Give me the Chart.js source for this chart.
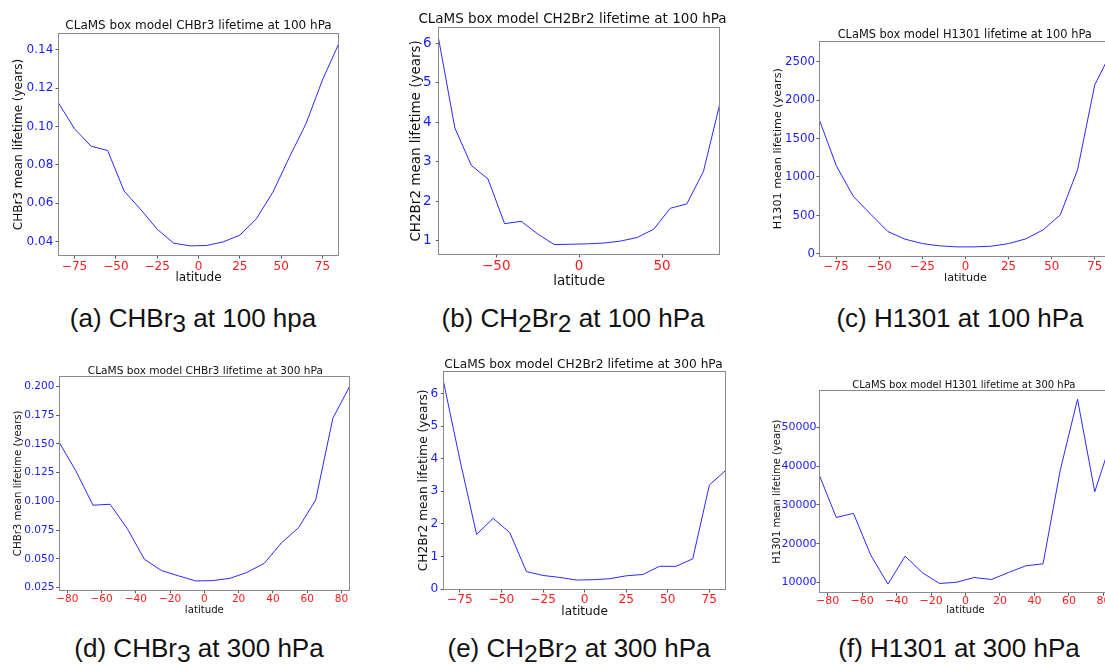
<!DOCTYPE html>
<html><head><meta charset="utf-8">
<script src="https://cdn.jsdelivr.net/npm/chart.js@4/dist/chart.umd.min.js"></script>
<style>
html,body{margin:0;padding:0;background:#fff;width:1105px;height:664px;overflow:hidden;position:relative;}
canvas{position:absolute;}
.cap{position:absolute;font-family:"Liberation Sans",Arial,sans-serif;font-size:26px;line-height:30px;white-space:nowrap;transform:translateX(-50%);color:#111;}
.cap .s{font-size:0.95em;position:relative;top:0.2em;}
</style></head><body>
<div class="cap" style="left:193px;top:302.6px">(a) CHBr<span class="s">3</span> at 100 hpa</div>
<div class="cap" style="left:573px;top:302.6px">(b) CH<span class="s">2</span>Br<span class="s">2</span> at 100 hPa</div>
<div class="cap" style="left:960px;top:302.6px">(c) H1301 at 100 hPa</div>
<div class="cap" style="left:199px;top:632.6px">(d) CHBr<span class="s">3</span> at 300 hPa</div>
<div class="cap" style="left:579px;top:632.6px">(e) CH<span class="s">2</span>Br<span class="s">2</span> at 300 hPa</div>
<div class="cap" style="left:959px;top:632.6px">(f) H1301 at 300 hPa</div>
<script>
// ---- data ----
const latitudes = [-85,-75,-65,-55,-45,-35,-25,-15,-5,5,15,25,35,45,55,65,75,85];
const chbr3_100  = [0.1127,0.0988,0.0897,0.0875,0.0663,0.0567,0.0464,0.0391,0.0377,0.0379,0.0398,0.0433,0.0518,0.0657,0.0840,0.1014,0.1243,0.1435];
const ch2br2_100 = [6.15,3.85,2.90,2.56,1.43,1.49,1.17,0.90,0.91,0.92,0.94,0.99,1.08,1.29,1.82,1.93,2.75,4.48];
const h1301_100  = [1755,1148,745,516,290,191,134,104,91,91,100,134,195,312,507,1092,2197,2645];
const chbr3_300  = [0.152,0.1266,0.0967,0.0975,0.0764,0.0497,0.0398,0.0352,0.0308,0.0311,0.0331,0.0383,0.0462,0.0639,0.0772,0.1013,0.1724,0.2006];
const ch2br2_300 = [6.39,3.96,1.68,2.17,1.73,0.54,0.42,0.36,0.28,0.29,0.32,0.41,0.45,0.70,0.70,0.93,3.19,3.65];
const h1301_300  = [37870,26774,27806,17054,9600,16796,12495,9742,10086,11290,10774,12581,14301,14817,38989,57226,33397,47000];

const xTicks25 = [-75,-50,-25,0,25,50,75];
const xTicks50 = [-50,0,50];
const xTicks20 = [-80,-60,-40,-20,0,20,40,60,80];
const yTicksA = [0.04,0.06,0.08,0.10,0.12,0.14];
const yTicksB = [1,2,3,4,5,6];
const yTicksC = [0,500,1000,1500,2000,2500];
const yTicksD = [0.025,0.050,0.075,0.100,0.125,0.150,0.175,0.200];
const yTicksE = [0,1,2,3,4,5,6];
const yTicksF = [10000,20000,30000,40000,50000];

const titles = ['CLaMS box model CHBr3 lifetime at 100 hPa','CLaMS box model CH2Br2 lifetime at 100 hPa','CLaMS box model H1301 lifetime at 100 hPa',
                'CLaMS box model CHBr3 lifetime at 300 hPa','CLaMS box model CH2Br2 lifetime at 300 hPa','CLaMS box model H1301 lifetime at 300 hPa'];
const yLabels = ['CHBr3 mean lifetime (years)','CH2Br2 mean lifetime (years)','H1301 mean lifetime (years)',
                 'CHBr3 mean lifetime (years)','CH2Br2 mean lifetime (years)','H1301 mean lifetime (years)'];
const xLabel = 'latitude';

// ---- layout (positions / styles) ----
const panels = [
 {vals:chbr3_100, xt:xTicks25, yt:yTicksA, dec:2, plot:{l:58,t:33,r:339,b:256}, fsT:12, fsK:12, fsL:12, titleC:25.7, titleX:198.5, ylabX:18.5, xlabY:278.3, xTickC:266.7, yGap:4.7},
 {vals:ch2br2_100, xt:xTicks50, yt:yTicksB, dec:0, plot:{l:438.3,t:26.7,r:720,b:255}, fsT:13.5, fsK:13.5, fsL:13.5, titleC:19, titleX:572.5, ylabX:416.7, xlabY:281.7, xTickC:266.7, yGap:6.6},
 {vals:h1301_100, xt:xTicks25, yt:yTicksC, dec:0, plot:{l:819,t:40.7,r:1112,b:256.7}, fsT:11.4, fsK:11.8, fsL:11.2, titleC:35, titleX:964.7, ylabX:778.3, xlabY:278.3, xTickC:266.7, yGap:4},
 {vals:chbr3_300, xt:xTicks20, yt:yTicksD, dec:3, plot:{l:58.7,t:376,r:350,b:590.7}, fsT:10.6, fsK:10.5, fsL:10.2, titleC:371.7, titleX:205.3, ylabX:18.3, xlabY:610, xTickC:599.3, yGap:4.3},
 {vals:ch2br2_300, xt:xTicks25, yt:yTicksE, dec:0, plot:{l:443.3,t:370.7,r:726,b:590}, fsT:12.2, fsK:12.2, fsL:12.2, titleC:365, titleX:583.5, ylabX:424, xlabY:611.7, xTickC:600, yGap:5},
 {vals:h1301_300, xt:xTicks20, yt:yTicksF, dec:0, plot:{l:819,t:390,r:1112,b:593.3}, fsT:10, fsK:11, fsL:10, titleC:385, titleX:963.8, ylabX:777.3, xlabY:610.3, xTickC:600, yGap:2}
];

const FONT = "'DejaVu Sans', sans-serif";
const frame = {id:'frame', afterDatasetsDraw(chart){
  const {ctx, chartArea:a} = chart;
  ctx.save(); ctx.strokeStyle='#8a8a8a'; ctx.lineWidth=1;
  ctx.strokeRect(Math.round(a.left)+0.5, Math.round(a.top)+0.5, Math.round(a.right-a.left)-1, Math.round(a.bottom-a.top)-1);
  ctx.restore();
}};
const ptitle = {id:'ptitle', afterDraw(chart, args, o){
  const ctx = chart.ctx;
  ctx.save(); ctx.fillStyle='#111'; ctx.font = o.size+'px '+FONT;
  ctx.textAlign='center'; ctx.textBaseline='middle';
  ctx.fillText(o.text, o.x, o.y);
  ctx.restore();
}};

panels.forEach((p,i)=>{
  const cl = Math.floor(p.ylabX - 0.5*p.fsL);
  const ct = Math.floor(p.titleC - 0.6*p.fsT);
  const cb = Math.ceil(p.xlabY + 0.5*p.fsL);
  const padR = 12;
  const cr = Math.ceil(p.plot.r) + padR;
  const W = cr - cl, H = cb - ct;
  const cv = document.createElement('canvas');
  cv.width = W; cv.height = H;
  cv.style.left = cl+'px'; cv.style.top = ct+'px';
  cv.style.width = W+'px'; cv.style.height = H+'px';
  document.body.appendChild(cv);
  const tl = 2.5;
  const mn = Math.min(...p.vals), mx = Math.max(...p.vals), R = mx - mn;
  new Chart(cv, {
    type:'line',
    data:{datasets:[{data: latitudes.map((x,k)=>({x:x, y:p.vals[k]})), borderColor:'#2a2aff', borderWidth:1, pointRadius:0, tension:0, fill:false}]},
    options:{
      responsive:false, animation:false, devicePixelRatio:1,
      layout:{padding:{left:0, top:p.plot.t - ct, bottom:0, right: cr - p.plot.r}},
      plugins:{
        legend:{display:false}, tooltip:{enabled:false}, title:{display:false},
        ptitle:{text:titles[i], size:p.fsT, x:p.titleX - cl, y:p.titleC - ct}
      },
      scales:{
        x:{type:'linear', min:-85, max:85,
          afterFit:s=>{s.height = cb - p.plot.b;},
          afterBuildTicks:s=>{s.ticks = p.xt.map(v=>({value:v}));},
          grid:{display:true, drawOnChartArea:false, drawTicks:true, tickLength:tl, color:'#555'},
          border:{display:false},
          ticks:{autoSkip:false, maxRotation:0, color:'#ff1a1a', font:{family:FONT, size:p.fsK, lineHeight:1},
            padding: Math.max(0, p.xTickC - p.plot.b - 0.5*p.fsK - tl),
            callback:v=>(v<0?'\u2212':'')+Math.abs(v)},
          title:{display:true, text:xLabel, color:'#111', font:{family:FONT, size:p.fsL, lineHeight:1},
            padding:{top:0, bottom: cb - (p.xlabY + 0.5*p.fsL)}}
        },
        y:{type:'linear', min: mn - 0.05*R, max: mx + 0.05*R,
          afterFit:s=>{s.width = p.plot.l - cl;},
          afterBuildTicks:s=>{s.ticks = p.yt.map(v=>({value:v}));},
          grid:{display:true, drawOnChartArea:false, drawTicks:true, tickLength:tl, color:'#555'},
          border:{display:false},
          ticks:{autoSkip:false, color:'#1a1aff', font:{family:FONT, size:p.fsK, lineHeight:1},
            padding: Math.max(0, p.yGap - tl),
            callback:v=>v.toFixed(p.dec)},
          title:{display:true, text:yLabels[i], color:'#111', font:{family:FONT, size:p.fsL, lineHeight:1},
            padding:{top:(p.ylabX - 0.5*p.fsL) - cl, bottom:0}}
        }
      }
    },
    plugins:[frame, ptitle]
  });
});
</script>
</body></html>
